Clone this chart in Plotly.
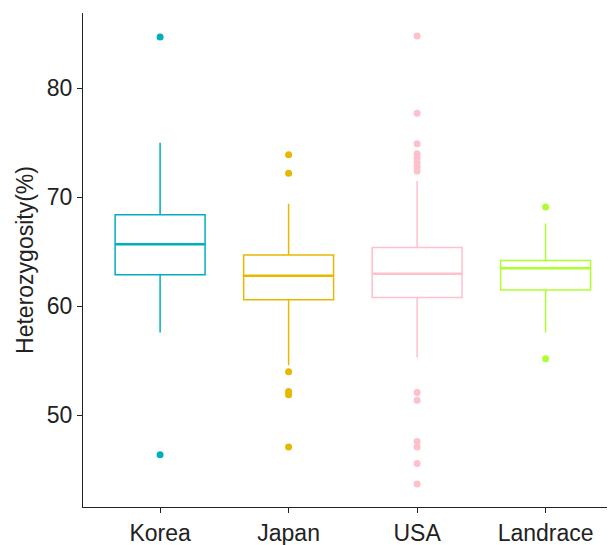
import plotly.graph_objects as go

categories = ["Korea", "Japan", "USA", "Landrace"]
colors = ["#00AFBB", "#E7B800", "#FFC0CB", "#ADFF2F"]

q1 = [62.9, 60.6, 60.8, 61.5]
median = [65.7, 62.8, 63.0, 63.5]
q3 = [68.4, 64.7, 65.4, 64.2]
lower_whisker = [57.6, 54.6, 55.3, 57.6]
upper_whisker = [75.0, 69.4, 71.5, 67.6]

outliers = {
    "Korea": [84.7, 46.4],
    "Japan": [73.9, 72.2, 54.0, 52.2, 51.9, 47.1],
    "USA": [84.8, 77.7, 74.9, 74.0, 73.6, 73.2, 72.8, 72.4,
            52.1, 51.4, 47.6, 47.1, 45.6, 43.7],
    "Landrace": [69.1, 55.2],
}

y_title = "Heterozygosity(%)"
y_ticks = [50, 60, 70, 80]

fig = go.Figure()
box_w = 0.7
for i, cat in enumerate(categories):
    fig.add_trace(go.Box(
        x=[cat], q1=[q1[i]], median=[median[i]], q3=[q3[i]],
        lowerfence=[lower_whisker[i]], upperfence=[upper_whisker[i]],
        line=dict(color=colors[i], width=1.5), whiskerwidth=0,
        fillcolor="rgba(0,0,0,0)", width=box_w, boxpoints=False,
        showlegend=False,
    ))
    fig.add_trace(go.Scatter(
        x=[cat] * len(outliers[cat]), y=outliers[cat], mode="markers",
        marker=dict(color=colors[i], size=7), showlegend=False,
    ))
    # thicker median line (ggplot style)
    fig.add_shape(type="line", xref="x", yref="y",
                  x0=i - box_w / 2, x1=i + box_w / 2,
                  y0=median[i], y1=median[i],
                  line=dict(color=colors[i], width=2.5))

# page body has an 8px margin, so the figure is offset by 8px
fig.update_layout(
    width=607, height=537,
    margin=dict(l=75, r=0, t=5, b=38),
    plot_bgcolor="white", paper_bgcolor="white",
    font=dict(family="Liberation Sans, Arial, sans-serif", color="#222"),
    boxmode="overlay",
)
fig.update_xaxes(
    type="category", categoryorder="array", categoryarray=categories,
    range=[-0.6, 3.54], automargin=False,
    showline=True, linecolor="#222", linewidth=1.3,
    ticks="outside", ticklen=5, tickcolor="#222", tickwidth=1.3,
    tickfont=dict(size=23), showgrid=False, zeroline=False,
)
fig.update_yaxes(
    range=[41.6, 86.9], tickvals=y_ticks, automargin=False,
    showline=True, linecolor="#222", linewidth=1.3,
    ticks="outside", ticklen=5, tickcolor="#222", tickwidth=1.3,
    tickfont=dict(size=23), showgrid=False, zeroline=False,
    title=dict(text=y_title, font=dict(size=23), standoff=6),
)

fig.write_html("out.html")
